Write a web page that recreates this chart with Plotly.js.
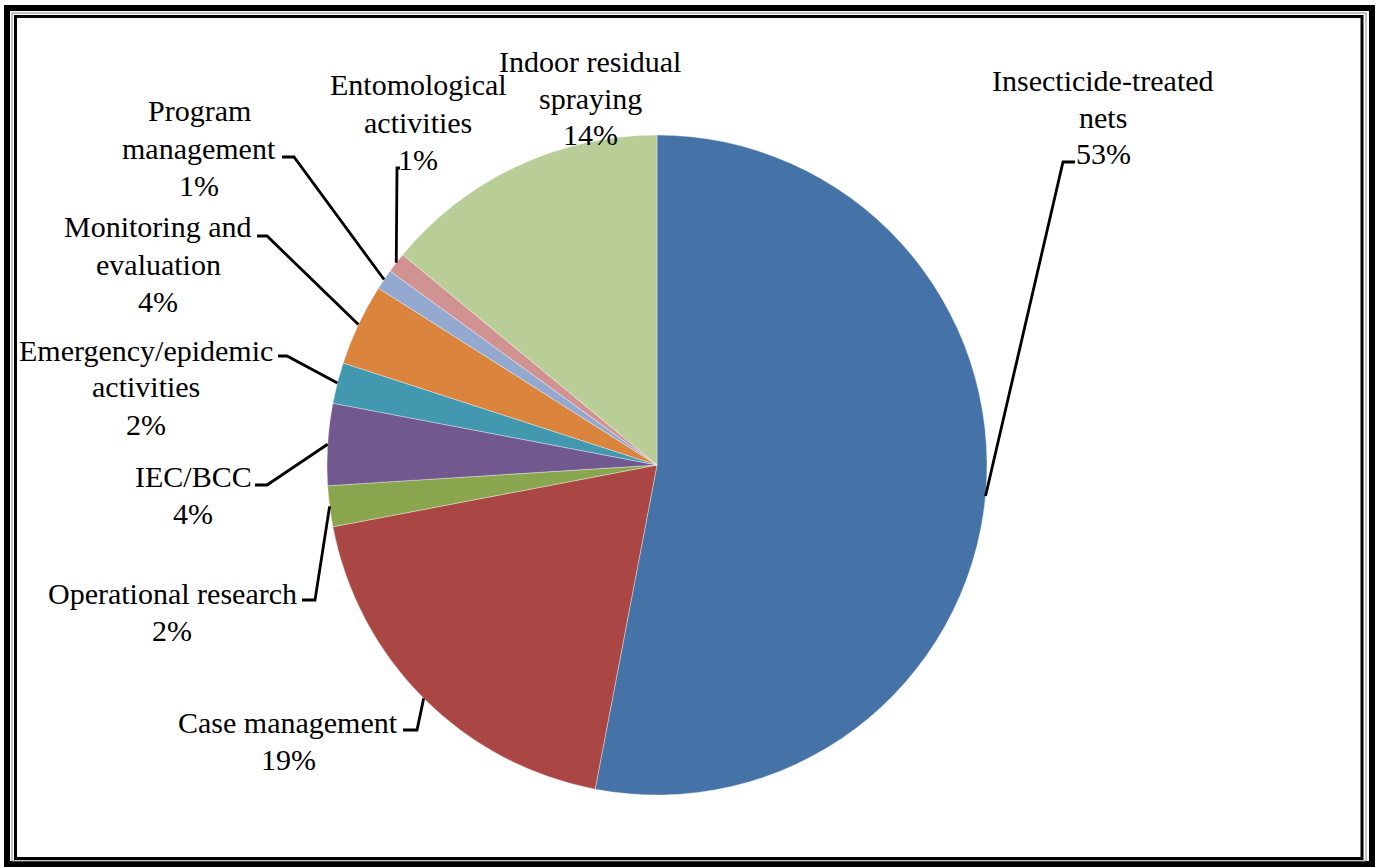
<!DOCTYPE html>
<html>
<head>
<meta charset="utf-8">
<script src="https://cdn.plot.ly/plotly-3.0.1.min.js"></script>
<style>html,body{margin:0;padding:0;background:#fff;}#chart{width:1378px;height:867px;}</style>
</head>
<body>
<div id="chart"></div>
<script>
// ---- data ----
const categories = [
  "Insecticide-treated nets",
  "Case management",
  "Operational research",
  "IEC/BCC",
  "Emergency/epidemic activities",
  "Monitoring and evaluation",
  "Program management",
  "Entomological activities",
  "Indoor residual spraying"
];
const values = [53, 19, 2, 4, 2, 4, 1, 1, 14];
const labelLines = [
  ["Insecticide-treated", "nets"],
  ["Case management"],
  ["Operational research"],
  ["IEC/BCC"],
  ["Emergency/epidemic", "activities"],
  ["Monitoring and", "evaluation"],
  ["Program", "management"],
  ["Entomological", "activities"],
  ["Indoor residual", "spraying"]
];
const colors = ["#4572A7", "#AA4643", "#89A54E", "#71588F", "#4198AF", "#DB843D", "#93A9CF", "#D19392", "#B9CD96"];

// ---- layout positions (pixels) ----
const W = 1378, H = 867;
const CX = 657, CY = 465, R = 330;
const LINE_H = 37;
// label block centres
const labelPos = [
  [1103, 117], [288, 741], [172, 612], [193, 495], [146, 387],
  [158, 264], [199, 148], [418, 122], [590, 98]
];
// leader line elbows / ends (null = no leader)
const leaderPts = [
  [[1063, 162], [1075, 162]],
  [[417, 730], [403, 730]],
  [[315, 600], [302, 600]],
  [[267, 485], [255, 485]],
  [[287, 356], [278, 356]],
  [[267, 236], [257, 236]],
  [[294, 157], [282, 157]],
  [[397, 168], [400, 168]],
  null
];

const px = x => x / W;
const py = y => 1 - y / H;

const total = values.reduce((a, b) => a + b, 0);
const shapes = [];
const annotations = [];
let cum = 0;
values.forEach((v, i) => {
  const mid = (cum + v / 2) / total;
  cum += v;
  const th = 2 * Math.PI * mid;
  const sx = CX + R * Math.sin(th), sy = CY - R * Math.cos(th);
  if (leaderPts[i]) {
    const pts = [[sx, sy]].concat(leaderPts[i]);
    const path = pts.map((p, k) => (k ? "L" : "M") + px(p[0]) + "," + py(p[1])).join(" ");
    shapes.push({type: "path", xref: "paper", yref: "paper", path: path,
      line: {color: "#000", width: 2.8}});
  }
  const lines = labelLines[i].concat([v + "%"]);
  const y0 = labelPos[i][1] - (lines.length - 1) / 2 * LINE_H;
  lines.forEach((t, k) => {
    annotations.push({
      xref: "paper", yref: "paper", x: px(labelPos[i][0]), y: py(y0 + k * LINE_H),
      xanchor: "center", yanchor: "middle", showarrow: false, align: "center",
      text: t, font: {family: "Liberation Serif, serif", size: 30, color: "#000"}
    });
  });
});

// frame
shapes.push({type: "rect", xref: "paper", yref: "paper", x0: px(7), x1: px(1372), y0: py(8), y1: py(864),
  line: {color: "#000", width: 6}});
shapes.push({type: "rect", xref: "paper", yref: "paper", x0: px(12), x1: px(1366), y0: py(13), y1: py(861),
  line: {color: "#888", width: 1}});
shapes.push({type: "rect", xref: "paper", yref: "paper", x0: px(15.5), x1: px(1362), y0: py(16.5), y1: py(858.5),
  line: {color: "#000", width: 3}});

const trace = {
  type: "pie",
  labels: categories,
  values: values,
  sort: false,
  direction: "clockwise",
  rotation: 0,
  textinfo: "none",
  hoverinfo: "label+percent",
  marker: {colors: colors, line: {color: "rgba(255,255,255,0.6)", width: 0.6}},
  domain: {x: [px(CX - R), px(CX + R)], y: [py(CY + R), py(CY - R)]},
  showlegend: false
};

Plotly.newPlot("chart", [trace], {
  width: W, height: H,
  margin: {l: 0, r: 0, t: 0, b: 0},
  paper_bgcolor: "#fff",
  showlegend: false,
  shapes: shapes,
  annotations: annotations
}, {displayModeBar: false, staticPlot: true});
</script>
</body>
</html>
